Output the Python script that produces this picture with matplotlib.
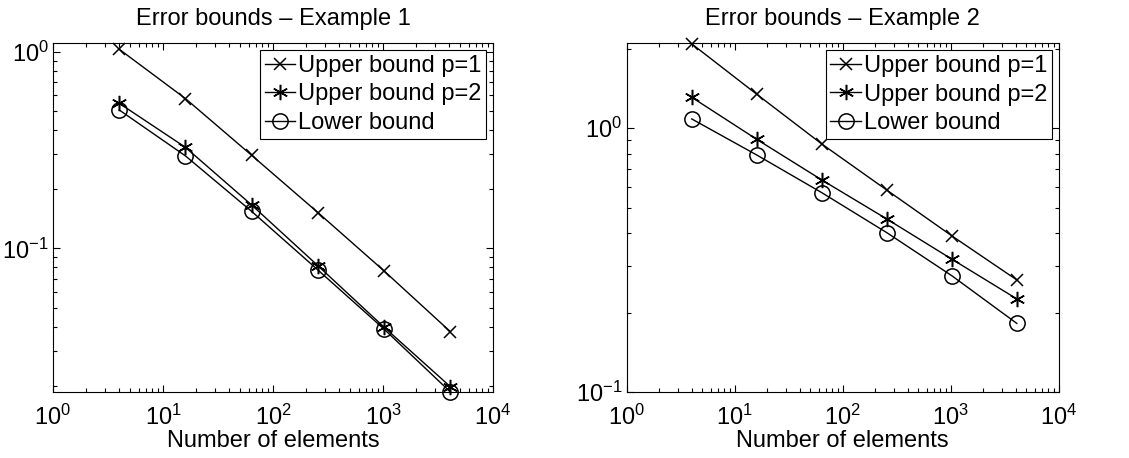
import matplotlib
matplotlib.use("Agg")
import matplotlib.pyplot as plt
import numpy as np

plt.rcParams["font.family"] = ["Liberation Sans", "DejaVu Sans"]
plt.rcParams["mathtext.fontset"] = "custom"
plt.rcParams["mathtext.rm"] = "Liberation Sans"
plt.rcParams["mathtext.it"] = "Liberation Sans:italic"

# number of elements
n_elem = [4, 16, 64, 256, 1024, 4096]

# Example 1
ex1_upper_p1 = [1.028, 0.577, 0.297, 0.152, 0.0767, 0.0377]
ex1_upper_p2 = [0.546, 0.326, 0.166, 0.0816, 0.0397, 0.0198]
ex1_lower = [0.505, 0.295, 0.154, 0.0776, 0.0388, 0.0186]

# Example 2
ex2_upper_p1 = [2.09, 1.346, 0.872, 0.583, 0.391, 0.266]
ex2_upper_p2 = [1.311, 0.908, 0.637, 0.453, 0.319, 0.2254]
ex2_lower = [1.085, 0.792, 0.570, 0.402, 0.276, 0.182]

labels = ["Upper bound p=1", "Upper bound p=2", "Lower bound"]
# matlab-like markers: cross, asterisk, open circle
markers = [("x", 9), ((6, 2, 0), 11), ("o", 11)]

W, H = 1129, 458
fig = plt.figure(figsize=(W / 100, H / 100), dpi=100)
ax1 = fig.add_axes([53 / W, (H - 392) / H, 440 / W, 349 / H])
ax2 = fig.add_axes([626.7 / W, (H - 392) / H, 432 / W, 348.7 / H])

panels = [
    (ax1, [ex1_upper_p1, ex1_upper_p2, ex1_lower], "Error bounds \u2013 Example 1", (0.0186, 1.106)),
    (ax2, [ex2_upper_p1, ex2_upper_p2, ex2_lower], "Error bounds \u2013 Example 2", (0.1, 2.10)),
]

for ax, series, title, ylim in panels:
    for vals, lab, (m, ms) in zip(series, labels, markers):
        mfc = "none" if m == "o" else "black"
        ax.loglog(n_elem, vals, color="black", linewidth=1.0, marker=m,
                  markersize=ms, markerfacecolor=mfc, markeredgecolor="black",
                  markeredgewidth=1.1, label=lab, clip_on=False)
    ax.set_xlim(1, 1e4)
    ax.set_ylim(*ylim)
    ax.set_title(title, fontsize=17, pad=13)
    ax.set_xlabel("Number of elements", fontsize=17, labelpad=0)
    ax.tick_params(which="both", direction="in", top=True, right=True,
                   labelsize=17, width=0.8)
    ax.tick_params(which="major", length=5)
    ax.tick_params(which="minor", length=3)
    ax.tick_params(axis="x", which="major", pad=9)
    ax.tick_params(axis="y", which="major", pad=3)
    for sp in ax.spines.values():
        sp.set_linewidth(0.8)
    leg = ax.legend(loc="upper right", fontsize=17, handlelength=1.3,
                    handletextpad=0.1, borderpad=0.2, labelspacing=0.28,
                    borderaxespad=0.3, fancybox=False, framealpha=1,
                    edgecolor="black")
    leg.get_frame().set_linewidth(0.8)

fig.savefig("out.png", dpi=100)
